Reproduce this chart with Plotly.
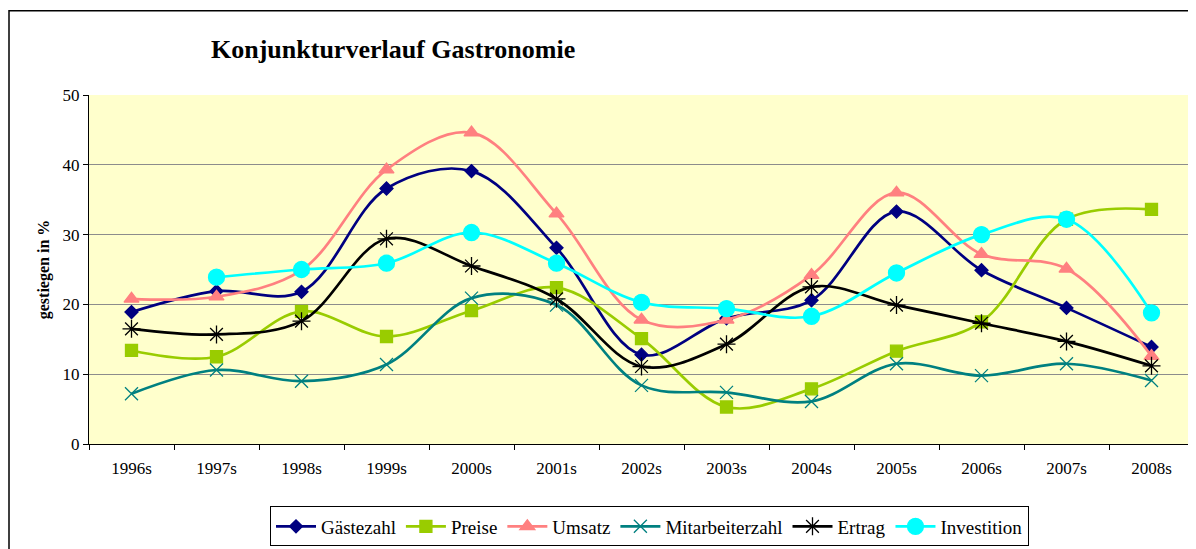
import plotly.graph_objects as go

years = ["1996s", "1997s", "1998s", "1999s", "2000s", "2001s", "2002s",
         "2003s", "2004s", "2005s", "2006s", "2007s", "2008s"]

gaestezahl = [18.9, 21.9, 21.8, 36.6, 39.1, 28.1, 12.8, 18.0, 20.6, 33.3, 24.9, 19.5, 13.9]
preise = [13.4, 12.5, 19.0, 15.4, 19.1, 22.4, 15.1, 5.3, 7.9, 13.3, 17.5, 32.2, 33.6]
umsatz = [20.8, 21.1, 24.9, 39.3, 44.6, 33.0, 17.8, 17.8, 24.2, 36.0, 27.2, 25.1, 12.6]
mitarbeiterzahl = [7.2, 10.6, 9.0, 11.4, 20.9, 19.9, 8.4, 7.4, 6.1, 11.5, 9.8, 11.5, 9.1]
ertrag = [16.5, 15.7, 17.6, 29.4, 25.5, 20.8, 11.1, 14.3, 22.5, 19.9, 17.3, 14.7, 11.2]
investition = [None, 23.9, 25.0, 25.9, 30.3, 25.9, 20.3, 19.4, 18.3, 24.5, 30.0, 32.2, 18.8]

series = [
    ("Gästezahl", gaestezahl, "#000080", "diamond", 10),
    ("Preise", preise, "#99CC00", "square", 12),
    ("Umsatz", umsatz, "#FF8080", "triangle-up", 13),
    ("Mitarbeiterzahl", mitarbeiterzahl, "#008080", "x-thin-open", 13),
    ("Ertrag", ertrag, "#000000", "asterisk-open", 15),
    ("Investition", investition, "#00FFFF", "circle", 16),
]

fig = go.Figure()
for name, vals, color, sym, size in series:
    fig.add_trace(go.Scatter(
        x=years, y=vals, name=name, mode="lines+markers",
        line=dict(color=color, width=2.7, shape="spline", smoothing=1.0),
        marker=dict(symbol=sym, size=size, color=color,
                    line=dict(color=color, width=1.3)),
        connectgaps=False,
    ))

# page body has an 8px margin, so the figure is offset by 8px
W, H = 1188, 541
L, R, T, B = 81, 2, 87, 102
ph = H - T - B
pw = W - L - R

fig.update_layout(
    width=W, height=H,
    margin=dict(l=L, r=R, t=T, b=B),
    paper_bgcolor="white",
    plot_bgcolor="#FFFFCC",
    font=dict(family="Liberation Serif", color="black"),
    title=dict(text="<b>Konjunkturverlauf Gastronomie</b>",
               font=dict(family="Liberation Serif", size=26, color="black"),
               xref="container", yref="container",
               x=203 / W, xanchor="left", y=1 - 41 / H, yanchor="middle"),
    xaxis=dict(type="category", showgrid=False, showline=True,
               linecolor="black", linewidth=1, ticks="outside",
               tickson="boundaries", ticklen=5, tickcolor="black",
               tickfont=dict(family="Liberation Serif", size=17),
               ticklabelstandoff=9,
               range=[-0.5, 12.5], mirror=False),
    yaxis=dict(range=[0, 50], dtick=10, showgrid=True, gridcolor="#8c8c8c",
               gridwidth=1, showline=True, linecolor="black", linewidth=1,
               ticks="outside", ticklen=5, tickcolor="black",
               tickfont=dict(family="Liberation Serif", size=17),
               zeroline=False,
               title=dict(text="<b>gestiegen in %</b>",
                          font=dict(family="Liberation Serif", size=16),
                          standoff=8)),
    legend=dict(orientation="h", x=(262 - L) / pw, xanchor="left",
                y=-(502 - (H - B)) / ph, yanchor="top",
                bordercolor="black", borderwidth=1, bgcolor="white",
                font=dict(family="Liberation Serif", size=19),
                itemwidth=40, tracegroupgap=0),
    showlegend=True,
)

# outer chart border
fig.add_shape(type="rect", xref="paper", yref="paper",
              x0=(1 - L) / pw, x1=1.05, y0=-0.5, y1=(H - B - 2) / ph,
              line=dict(color="black", width=1.5), fillcolor="rgba(0,0,0,0)",
              layer="above")

fig.write_html("out.html")
